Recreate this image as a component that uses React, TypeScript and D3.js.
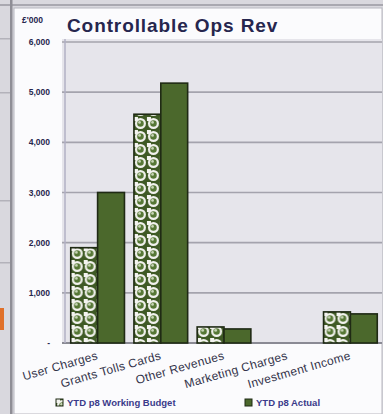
import React from "react";
import * as d3 from "d3";

// Revenue lines and the two series plotted for each
const categories = [
  "User Charges",
  "Grants Tolls Cards",
  "Other Revenues",
  "Marketing Charges",
  "Investment Income",
];
const budgetValues = [1900, 4560, 320, 0, 620];
const actualValues = [3000, 5180, 280, 0, 580];
const seriesNames = ["YTD p8 Working Budget", "YTD p8 Actual"];
const yTicks = [0, 1000, 2000, 3000, 4000, 5000, 6000];
const unitLabel = "£'000";
const title = "Controllable Ops Rev";

const W = 383;
const H = 414;
const plot = { left: 66, right: 382, top: 42, bottom: 343 };
const textColor = "#26264e";
const actualFill = "#4b682c";
const barStroke = "#1f2a14";

export default function App() {
  const x = d3
    .scaleBand<string>()
    .domain(categories)
    .range([plot.left, plot.right])
    .paddingInner(0.15)
    .paddingOuter(0.075);
  const sub = d3
    .scaleBand<number>()
    .domain([0, 1])
    .range([0, x.bandwidth()])
    .padding(0);
  const y = d3.scaleLinear().domain([0, 6000]).range([plot.bottom, plot.top]);
  const fmt = (v: number) => (v === 0 ? "-" : d3.format(",")(v));

  const rows = categories.map((c, i) => ({
    c,
    vals: [budgetValues[i], actualValues[i]],
  }));

  return (
    <svg
      width={W}
      height={H}
      style={{ position: "absolute", left: 0, top: 0, display: "block" }}
      fontFamily="Liberation Sans, Arial, sans-serif"
    >
      <defs>
        <pattern
          id="sphere"
          patternUnits="userSpaceOnUse"
          width={13}
          height={13}
        >
          <rect width={13} height={13} fill="#3f5a25" />
          <rect x={0} y={0} width={4} height={4} fill="#f4f4f0" />
          <circle cx={6.5} cy={6.5} r={4.4} fill="#557734" stroke="#f2f2ee" strokeWidth={2.2} />
          <circle cx={5.6} cy={5.4} r={1.4} fill="#c9d6b8" />
        </pattern>
      </defs>

      {/* surrounding sheet */}
      <rect x={0} y={0} width={W} height={H} fill="#d9d8de" />
      <rect x={0} y={4} width={W} height={2} fill="#a9a8b0" />
      <rect x={0} y={38} width={11} height={1.5} fill="#b3b2ba" />
      <rect x={0} y={92} width={11} height={1.5} fill="#b3b2ba" />
      <rect x={0} y={200} width={11} height={1.5} fill="#b3b2ba" />
      <rect x={0} y={262} width={11} height={1.5} fill="#b3b2ba" />
      <rect x={0} y={308} width={4} height={22} fill="#e0702a" />
      <rect x={10} y={0} width={2.5} height={H} fill="#8f8e96" />

      {/* chart area */}
      <rect x={14} y={8} width={368} height={H - 8} fill="#fbfbfd" stroke="#b8b7bf" strokeWidth={1} />
      <rect
        x={plot.left - 4}
        y={plot.top - 3}
        width={plot.right - plot.left + 4}
        height={plot.bottom - plot.top + 3}
        fill="#e6e5eb"
      />

      {/* gridlines */}
      {yTicks.map((t) => (
        <line
          key={t}
          x1={plot.left - 4}
          x2={plot.right}
          y1={y(t)}
          y2={y(t)}
          stroke={t === 0 ? "#8a8a94" : "#a4a3ad"}
          strokeWidth={t === 0 ? 2 : 1.6}
        />
      ))}
      <line x1={plot.left - 1} x2={plot.left - 1} y1={plot.top - 3} y2={plot.bottom} stroke="#b2b1c4" strokeWidth={1.5} />

      {/* bars */}
      {rows.map((r) => (
        <g key={r.c} transform={`translate(${x(r.c)},0)`}>
          {r.vals.map((v, j) =>
            v > 0 ? (
              <rect
                key={j}
                x={sub(j)}
                y={y(v)}
                width={sub.bandwidth()}
                height={y(0) - y(v)}
                fill={j === 0 ? "url(#sphere)" : actualFill}
                stroke={barStroke}
                strokeWidth={1.6}
              />
            ) : null
          )}
        </g>
      ))}

      {/* y axis labels */}
      {yTicks.map((t) => (
        <text
          key={t}
          x={50}
          y={y(t) + 3}
          textAnchor="end"
          fontSize={8.5}
          fontWeight="bold"
          fill={textColor}
        >
          {fmt(t)}
        </text>
      ))}
      <text x={22} y={23} fontSize={8.5} fontWeight="bold" fill={textColor}>
        {unitLabel}
      </text>

      {/* title */}
      <text x={67} y={32} fontSize={19} fontWeight="bold" fill={textColor} letterSpacing={0.9}>
        {title}
      </text>

      {/* category labels */}
      {categories.map((c) => {
        const cx = (x(c) as number) + x.bandwidth() / 2;
        return (
          <text
            key={c}
            transform={`translate(${cx + 1},${359}) rotate(-16)`}
            textAnchor="end"
            fontSize={12}
            letterSpacing={0.3}
            fill="#33334a"
          >
            {c}
          </text>
        );
      })}

      {/* legend */}
      {seriesNames.map((s, i) => {
        const lx = i === 0 ? 56 : 245;
        return (
          <g key={s} transform={`translate(${lx},399)`}>
            <rect
              width={7}
              height={7}
              fill={i === 0 ? "url(#sphere)" : actualFill}
              stroke={barStroke}
              strokeWidth={1}
            />
            <text x={11} y={7} fontSize={9.5} fontWeight="bold" fill="#3a3a8a">
              {s}
            </text>
          </g>
        );
      })}
    </svg>
  );
}
